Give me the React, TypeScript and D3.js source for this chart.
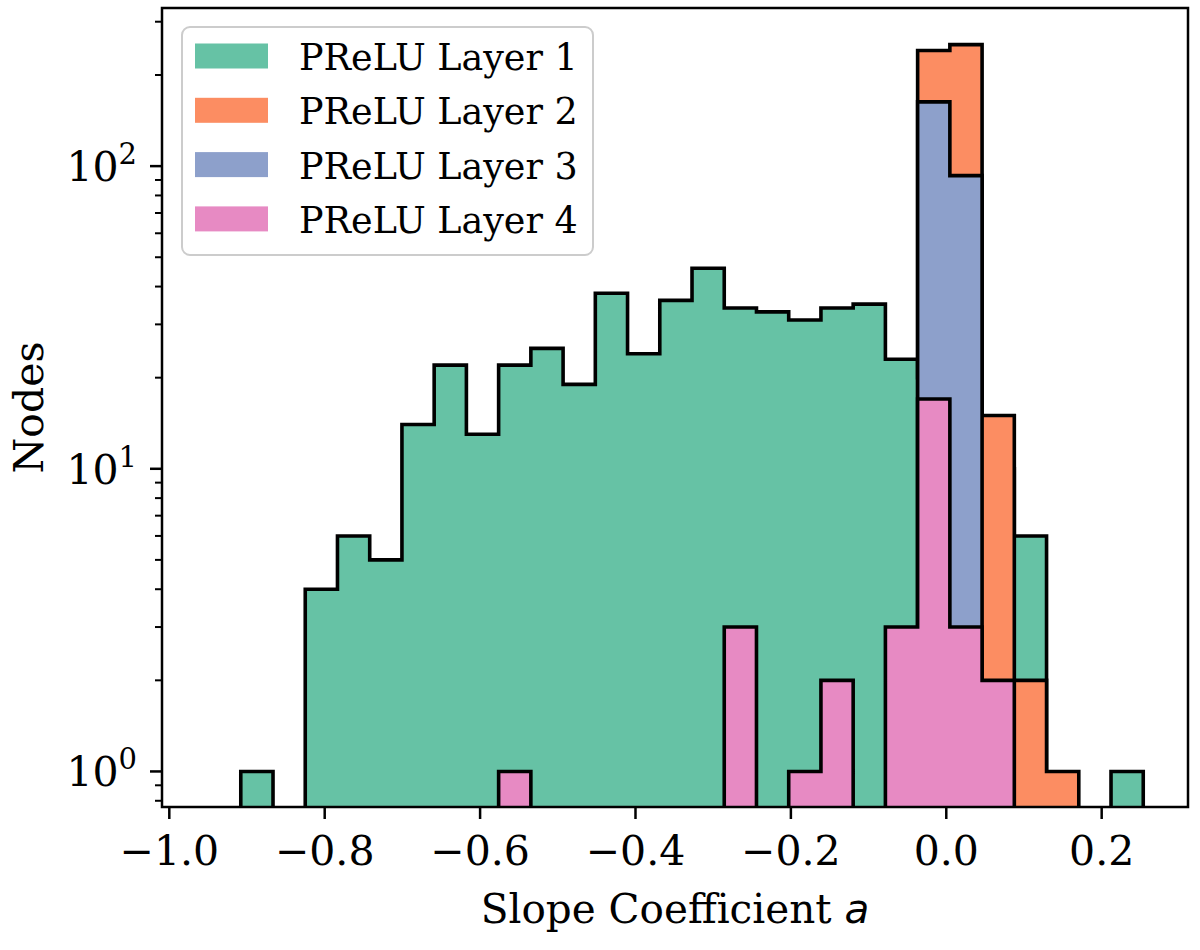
import * as d3 from "d3";

// histogram counts per bin (28 shared bins)
const layerNames = ["PReLU Layer 1", "PReLU Layer 2", "PReLU Layer 3", "PReLU Layer 4"];
const layer1 = [1, 0, 4, 6, 5, 14, 22, 13, 22, 25, 19, 38, 24, 36, 46, 34, 33, 31, 34, 35, 23, 20, 12, 10, 6, 0, 0, 1];
const layer2 = [0, 0, 0, 0, 0, 0, 0, 0, 0, 0, 0, 0, 0, 0, 0, 0, 0, 0, 0, 0, 0, 241, 252, 15, 2, 1, 0, 0];
const layer3 = [0, 0, 0, 0, 0, 0, 0, 0, 0, 0, 0, 0, 0, 0, 0, 0, 0, 0, 0, 0, 0, 163, 93, 0, 0, 0, 0, 0];
const layer4 = [0, 0, 0, 0, 0, 0, 0, 0, 1, 0, 0, 0, 0, 0, 0, 3, 0, 1, 2, 0, 3, 17, 3, 2, 0, 0, 0, 0];
const binMin = -0.908;
const binMax = 0.2535;
const xTicks = [-1.0, -0.8, -0.6, -0.4, -0.2, 0.0, 0.2];
const yTicks = [1, 10, 100];
const yTickExp = ["0", "1", "2"];

const colors = ["#66c2a5", "#fc8d62", "#8da0cb", "#e78ac3"];

const W = 1200;
const H = 950;
const left = 162;
const right = 1188;
const top = 8;
const bottom = 807;

const serif = "'DejaVu Serif', serif";

export default function App() {
    const layers = [layer1, layer2, layer3, layer4];
    const nBins = layer1.length;
    const binW = (binMax - binMin) / nBins;
    const edges = d3.range(nBins + 1).map((i) => binMin + i * binW);

    const x = d3.scaleLinear().domain([-1.0094, 0.3111]).range([left, right]);
    const y = d3.scaleLog().domain([0.763, 333]).range([bottom, top]);

    const yOf = (v: number) => (v > 0 ? y(v) : bottom + 20);

    const stepPath = (counts: number[]) => {
        const p = d3.path();
        p.moveTo(x(edges[0]), bottom + 20);
        counts.forEach((c, i) => {
            p.lineTo(x(edges[i]), yOf(c));
            p.lineTo(x(edges[i + 1]), yOf(c));
        });
        p.lineTo(x(edges[nBins]), bottom + 20);
        p.closePath();
        return p.toString();
    };

    const minorTicks: number[] = [];
    [-1, 0, 1, 2].forEach((d) => {
        for (let k = 2; k <= 9; k++) {
            const v = k * Math.pow(10, d);
            if (v > 0.763 && v < 333) minorTicks.push(v);
        }
    });

    return (
        <svg width={W} height={H} style={{ position: "absolute", left: 0, top: 0, background: "#fff" }}>
            <defs>
                <clipPath id="plot">
                    <rect x={left} y={top} width={right - left} height={bottom - top} />
                </clipPath>
            </defs>

            <g clipPath="url(#plot)">
                {layers.map((l, i) => (
                    <path key={i} d={stepPath(l)} fill={colors[i]} stroke="#000" strokeWidth={3.6} strokeLinejoin="miter" />
                ))}
            </g>

            {/* x axis */}
            {xTicks.map((t) => (
                <g key={t} transform={`translate(${x(t)},${bottom})`}>
                    <line y1={0} y2={12} stroke="#000" strokeWidth={2.5} />
                    <text y={58} textAnchor="middle" fontFamily={serif} fontSize={41}>
                        {(t < 0 ? "\u2212" : "") + Math.abs(t).toFixed(1)}
                    </text>
                </g>
            ))}

            {/* y axis */}
            {minorTicks.map((t) => (
                <line key={t} x1={left - 7} x2={left} y1={y(t)} y2={y(t)} stroke="#000" strokeWidth={2} />
            ))}
            {yTicks.map((t, i) => (
                <g key={t} transform={`translate(${left},${y(t)})`}>
                    <line x1={-12} x2={0} stroke="#000" strokeWidth={2.5} />
                    <text x={-25} y={15} textAnchor="end" fontFamily={serif} fontSize={41}>
                        10
                        <tspan dy={-17} fontSize={29}>{yTickExp[i]}</tspan>
                    </text>
                </g>
            ))}

            <rect x={left} y={top} width={right - left} height={bottom - top} fill="none" stroke="#000" strokeWidth={2.5} />

            <text transform={`translate(43,${(top + bottom) / 2}) rotate(-90)`} textAnchor="middle" fontFamily={serif} fontSize={41}>
                Nodes
            </text>
            <text x={(left + right) / 2} y={923} textAnchor="middle" fontFamily={serif} fontSize={40.5}>
                Slope Coefficient{" "}
                <tspan fontFamily="'DejaVu Sans', sans-serif" fontStyle="italic">a</tspan>
            </text>

            {/* legend */}
            <rect x={182} y={27} width={411} height={228} rx={8} fill="#fff" fillOpacity={0.8} stroke="#cccccc" strokeWidth={2} />
            {layerNames.map((n, i) => (
                <g key={n} transform={`translate(0,${i * 54.3})`}>
                    <rect x={195} y={43.5} width={73} height={25} fill={colors[i]} />
                    <text x={299} y={70} fontFamily={serif} fontSize={36.5}>{n}</text>
                </g>
            ))}
        </svg>
    );
}
